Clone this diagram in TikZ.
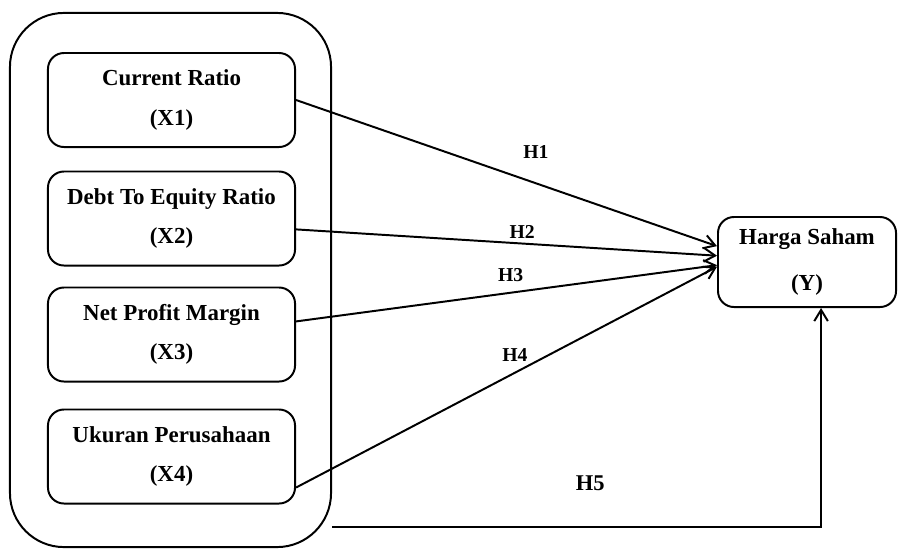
\documentclass[tikz,border=0pt]{standalone}
\usepackage{fontspec}
\setmainfont{Liberation Serif}
\usetikzlibrary{arrows.meta,positioning,calc}

\begin{document}
\begin{tikzpicture}[
  x=0.025cm, y=-0.025cm,
  font=\bfseries\fontsize{16.3}{28}\selectfont,
  var/.style={draw, line width=1.4pt, rounded corners=0.4cm, align=center, minimum width=6.175cm, minimum height=2.35cm, inner sep=0pt},
  grp/.style={draw, line width=1.4pt, rounded corners=1.35cm, minimum width=8.025cm, minimum height=13.35cm},
  hyp/.style={font=\bfseries\fontsize{14}{16}\selectfont},
  arr/.style={-{Straight Barb[length=2.8mm,width=3.4mm]}, line width=1.4pt}
]
\useasboundingbox (0,0) rectangle (898,548);
% grouping box
\node[grp] (group) at (170.5,280) {};
% independent variables
\foreach \n/\yy/\t in {1/100/Current Ratio, 2/218.5/Debt To Equity Ratio, 3/334.5/Net Profit Margin, 4/456.5/Ukuran Perusahaan}{
  \node[var] (x\n) at (171.5,\yy) {\t\\(X\n)};
}
% dependent variable
\node[var, minimum width=4.45cm, minimum height=2.25cm] (y) at (807,262) {Harga Saham\\[4.7pt](Y)};
% hypotheses
\draw[arr] (x1.east) -- node[hyp, pos=0.57, yshift=0.78cm]{H1} (y.170);
\draw[arr] (x2.-5) -- node[hyp, pos=0.537, yshift=0.28cm]{H2} (y.176);
\draw[arr] (x3.6) -- node[hyp, pos=0.51, yshift=0.45cm]{H3} (y.-178);
\draw[arr] (x4.-14) -- node[hyp, pos=0.52, yshift=0.45cm]{H4} (y.-177);
\draw[arr] (group.east |- 0,527) -| node[hyp, font=\bfseries\fontsize{16}{18}\selectfont, pos=0.264, yshift=1.1cm]{H5} (y.-73);
\end{tikzpicture}
\end{document}
